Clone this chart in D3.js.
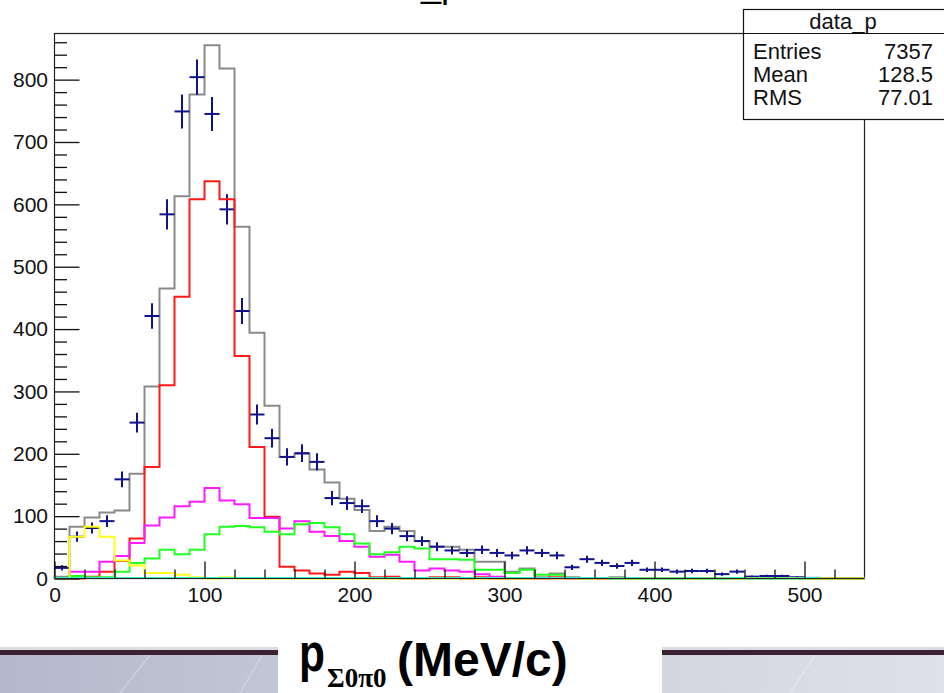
<!DOCTYPE html>
<html>
<head>
<meta charset="utf-8">
<script src="https://cdn.jsdelivr.net/npm/d3@7"></script>
<style>
  html, body { margin: 0; padding: 0; background: #ffffff; }
  svg { display: block; }
</style>
</head>
<body>
<script>
// ---- histogram content (10 MeV/c bins starting at 0) ----
const xRange = [0, 540];
const binWidth = 10;

// measured data, drawn as error crosses
const dataCounts = [17, 67, 81, 92, 159, 250, 421, 584, 749, 804,
  745, 592, 429, 263, 225, 195, 201, 187, 129, 121,
  116, 92, 80, 68, 60, 51, 45, 41, 46, 41,
  37, 45, 41, 37, 18, 31, 25, 20, 25, 14,
  14, 11, 12, 12, 7, 11, 3, 4, 4, 2,
  1, 0, 0, 0];

// simulated total
const mcTotal = [3, 83, 98, 106, 109, 168, 308, 465, 613, 776,
  855, 818, 564, 394, 277, 195, 200, 175, 154, 128,
  110, 76, 83, 76, 60, 51, 51, 46, 27, 27,
  11, 16, 2, 8, 2, 0, 0, 2, 0, 1,
  1, 1, 0, 1, 1, 0, 1, 1, 1, 1,
  0, 0, 0, 0];

// simulated components
const mcRed = [0, 0, 3, 11, 28, 64, 179, 310, 452, 608,
  637, 608, 357, 211, 99, 19, 13, 8, 6, 11,
  9, 2, 3, 0, 0, 2, 2, 0, 2, 0,
  0, 0, 0, 2, 0, 0, 0, 0, 0, 0,
  0, 0, 0, 0, 0, 0, 0, 0, 0, 0,
  0, 0, 0, 0];
const mcMagenta = [0, 11, 11, 27, 36, 57, 85, 98, 116, 123,
  145, 125, 119, 97, 97, 80, 92, 75, 68, 60,
  51, 35, 38, 27, 13, 16, 13, 11, 7, 3,
  1, 1, 0, 0, 0, 0, 0, 0, 0, 0,
  0, 0, 0, 0, 0, 0, 0, 0, 0, 0,
  0, 0, 0, 0];
const mcGreen = [0, 4, 2, 2, 11, 25, 32, 46, 39, 46,
  71, 83, 84, 82, 75, 71, 87, 89, 82, 71,
  56, 39, 42, 51, 48, 31, 31, 30, 14, 14,
  9, 14, 6, 6, 1, 0, 1, 0, 0, 0,
  0, 0, 0, 0, 0, 0, 0, 0, 0, 0,
  0, 0, 0, 0];
const mcYellow = [0, 67, 83, 67, 29, 21, 9, 9, 6, 2,
  0, 2, 0, 0, 0, 0, 0, 0, 0, 0,
  0, 0, 0, 0, 0, 0, 0, 0, 0, 0,
  0, 0, 0, 0, 0, 0, 0, 0, 0, 0,
  0, 0, 0, 0, 0, 0, 0, 0, 0, 0,
  0, 0, 0, 0];
const mcCyan = [1, 1, 1, 1, 1, 1, 1, 1, 1, 1,
  1, 1, 1, 1, 1, 1, 1, 1, 1, 1,
  1, 1, 1, 1, 1, 1, 1, 1, 1, 1,
  1, 1, 1, 1, 1, 1, 1, 0, 1, 0,
  0, 0, 1, 0, 0, 1, 0, 0, 0, 0,
  1];

// axis ticks and labels
const xMajorTicks = [0, 100, 200, 300, 400, 500];
const yMajorTicks = [0, 100, 200, 300, 400, 500, 600, 700, 800];
const yMax = 874;

// statistics box
const statsTitle = "data_p";
const statsRows = [["Entries", "7357"], ["Mean", "128.5"], ["RMS", "77.01"]];

const plotTitle = "data_p";

// ---- drawing ----
const W = 944, H = 693;
const frame = { left: 54.5, right: 864.5, top: 33.5, bottom: 578.5 };

const svg = d3.select("body").append("svg")
  .attr("width", W).attr("height", H)
  .attr("viewBox", `0 0 ${W} ${H}`);

const x = d3.scaleLinear().domain(xRange).range([frame.left, frame.right]);
const y = d3.scaleLinear().domain([0, yMax]).range([frame.bottom, frame.top]);

const FONT = "'Liberation Sans', Arial, Helvetica, sans-serif";

// title (mostly above the visible area)
svg.append("text")
  .attr("x", 351).attr("y", -3)
  .attr("font-family", FONT).attr("font-size", 36)
  .attr("fill", "#000")
  .text(plotTitle);

// frame
svg.append("rect")
  .attr("x", frame.left).attr("y", frame.top)
  .attr("width", frame.right - frame.left).attr("height", frame.bottom - frame.top)
  .attr("fill", "none").attr("stroke", "#222").attr("stroke-width", 1.2);

// step outline of a histogram
function stepPath(vals) {
  const p = d3.path();
  p.moveTo(x(xRange[0]), y(0));
  vals.forEach((v, i) => {
    p.lineTo(x(i * binWidth), y(v));
    p.lineTo(x((i + 1) * binWidth), y(v));
  });
  p.lineTo(x(vals.length * binWidth), y(0));
  return p.toString();
}

const plot = svg.append("g");

function drawHist(vals, color) {
  plot.append("path")
    .attr("d", stepPath(vals))
    .attr("fill", "none")
    .attr("stroke", color)
    .attr("stroke-width", 2)
    .attr("stroke-linejoin", "miter");
}

drawHist(mcTotal, "#8a8a8a");

// data crosses: full bin width horizontally, sqrt(N) vertically
const pts = dataCounts.map((v, i) => ({ v, i })).filter(d => d.v > 0);
const cross = plot.append("g").attr("stroke", "#12128c").attr("stroke-width", 2);
cross.selectAll("line.h").data(pts).join("line")
  .attr("class", "h")
  .attr("x1", d => x(d.i * binWidth)).attr("x2", d => x((d.i + 1) * binWidth))
  .attr("y1", d => y(d.v)).attr("y2", d => y(d.v));
cross.selectAll("line.v").data(pts).join("line")
  .attr("class", "v")
  .attr("x1", d => x((d.i + 0.5) * binWidth)).attr("x2", d => x((d.i + 0.5) * binWidth))
  .attr("y1", d => y(d.v + Math.sqrt(d.v))).attr("y2", d => y(d.v - Math.sqrt(d.v)));

drawHist(mcRed, "#ff1a1a");
drawHist(mcMagenta, "#ff1aff");
drawHist(mcGreen, "#22ff22");
drawHist(mcYellow, "#ffff1a");
drawHist(mcCyan, "#33eec4");

// axes
const axisColor = "#111";
function styleAxis(g) {
  g.select(".domain").remove();
  g.selectAll(".tick line").attr("stroke", axisColor).attr("stroke-width", 1.3);
  g.selectAll(".tick text").attr("fill", "#111").attr("font-family", FONT).attr("font-size", 21);
}

const yMinor = d3.range(20, yMax, 20).filter(v => v % 100 !== 0);
svg.append("g").attr("transform", `translate(${frame.left},0)`)
  .call(d3.axisLeft(y).tickValues(yMinor).tickSize(-12.5).tickFormat(""))
  .call(styleAxis);
svg.append("g").attr("transform", `translate(${frame.left},0)`)
  .call(d3.axisLeft(y).tickValues(yMajorTicks).tickSize(-25).tickPadding(6.5).tickFormat(d3.format("d")))
  .call(styleAxis);

const xMinor = d3.range(20, xRange[1], 20).filter(v => v % 100 !== 0);
svg.append("g").attr("transform", `translate(0,${frame.bottom})`)
  .call(d3.axisBottom(x).tickValues(xMinor).tickSize(-9).tickFormat(""))
  .call(styleAxis);
svg.append("g").attr("transform", `translate(0,${frame.bottom})`)
  .call(d3.axisBottom(x).tickValues(xMajorTicks).tickSize(-17).tickPadding(8.5).tickFormat(d3.format("d")))
  .call(styleAxis);

// bottom axis line on top
svg.append("line").attr("x1", frame.left).attr("x2", frame.right)
  .attr("y1", frame.bottom).attr("y2", frame.bottom)
  .attr("stroke", "#222").attr("stroke-width", 1.2);

// statistics box
const sb = { x: 743.5, y: 9.5, w: 215, h: 110 };
const stats = svg.append("g");
stats.append("rect").attr("x", sb.x).attr("y", sb.y).attr("width", sb.w).attr("height", sb.h)
  .attr("fill", "#fff").attr("stroke", "#111").attr("stroke-width", 1.2);
stats.append("line").attr("x1", sb.x).attr("x2", sb.x + sb.w)
  .attr("y1", 33.5).attr("y2", 33.5).attr("stroke", "#111").attr("stroke-width", 1.2);
stats.append("text").attr("x", 843).attr("y", 29).attr("text-anchor", "middle")
  .attr("font-family", FONT).attr("font-size", 22).attr("fill", "#111").text(statsTitle);
statsRows.forEach((r, i) => {
  const by = 59 + i * 23;
  stats.append("text").attr("x", 753).attr("y", by)
    .attr("font-family", FONT).attr("font-size", 22).attr("fill", "#111").text(r[0]);
  stats.append("text").attr("x", 933).attr("y", by).attr("text-anchor", "end")
    .attr("font-family", FONT).attr("font-size", 22).attr("fill", "#111").text(r[1]);
});

// ---- slide footer band with the axis caption ----
const defs = svg.append("defs");
const grad = defs.append("linearGradient").attr("id", "band").attr("x1", 0).attr("x2", 1).attr("y1", 0).attr("y2", 0);
grad.append("stop").attr("offset", 0).attr("stop-color", "#b4b8cb");
grad.append("stop").attr("offset", 0.5).attr("stop-color", "#cbcfdb");
grad.append("stop").attr("offset", 1).attr("stop-color", "#dfe1e7");

const footer = svg.append("g");
footer.append("rect").attr("x", 0).attr("y", 647).attr("width", W).attr("height", 3).attr("fill", "#dcdce2");
footer.append("rect").attr("x", 0).attr("y", 650).attr("width", W).attr("height", 5).attr("fill", "#3a2230");
footer.append("rect").attr("x", 0).attr("y", 655).attr("width", W).attr("height", H - 655).attr("fill", "url(#band)");
[[120, 693, 150, 655], [240, 693, 262, 655], [790, 693, 815, 655]].forEach(l => {
  footer.append("line").attr("x1", l[0]).attr("y1", l[1]).attr("x2", l[2]).attr("y2", l[3])
    .attr("stroke", "#ffffff").attr("stroke-opacity", 0.25).attr("stroke-width", 1.5);
});
footer.append("rect").attr("x", 278).attr("y", 625).attr("width", 384).attr("height", H - 625).attr("fill", "#fff");

const cap = footer.append("g").attr("fill", "#000");
cap.append("text").attr("transform", "translate(299,671) scale(0.8,1)")
  .attr("font-family", FONT).attr("font-weight", "bold").attr("font-size", 53).text("p");
cap.append("text").attr("x", 327).attr("y", 687)
  .attr("font-family", "'Liberation Serif', 'DejaVu Serif', serif").attr("font-weight", "bold")
  .attr("font-size", 27).text("Σ0π0");
cap.append("text").attr("x", 397).attr("y", 676)
  .attr("font-family", FONT).attr("font-weight", "bold").attr("font-size", 48).text("(MeV/c)");
</script>
</body>
</html>
